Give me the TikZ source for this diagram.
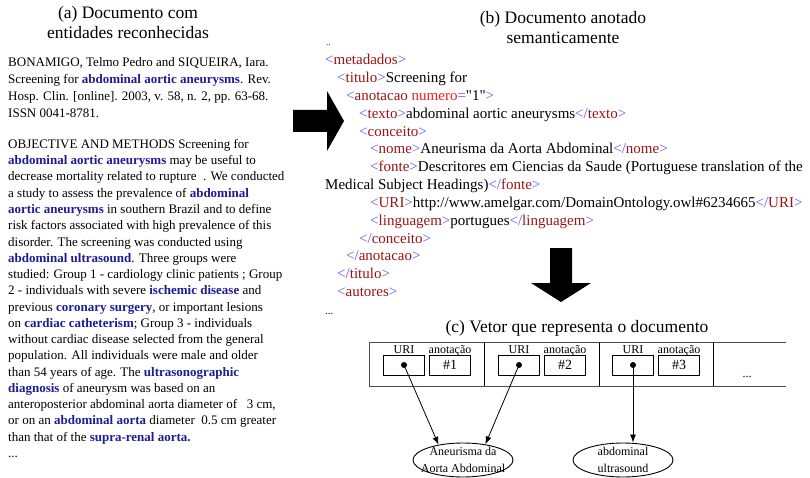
\documentclass[tikz,border=0pt]{standalone}
\usepackage{fontspec}
\setmainfont{Liberation Serif}[Ligatures=TeXOff]
\usetikzlibrary{arrows.meta,shapes.geometric}
\definecolor{entblue}{RGB}{28,28,150}
\definecolor{xmlblue}{RGB}{85,85,255}
\definecolor{xmlred}{RGB}{155,20,20}
\definecolor{xmlattr}{RGB}{255,25,25}
\newcommand\entity[1]{\textbf{\color{entblue}#1}}
\newcommand\xo[1]{{\color{xmlblue}<}{\color{xmlred}#1}{\color{xmlblue}>}}
\newcommand\xc[1]{{\color{xmlblue}</}{\color{xmlred}#1}{\color{xmlblue}>}}
\begin{document}
\begin{tikzpicture}[x=1pt,y=-1pt,
  title/.style={inner sep=0pt,anchor=base,font=\fontsize{17.5}{20}\selectfont},
  body/.style={inner sep=0pt,anchor=base west,font=\fontsize{13}{15}\selectfont},
  xml/.style={inner sep=0pt,anchor=base west,font=\fontsize{15}{17}\selectfont},
  label/.style={inner sep=0pt,anchor=base,font=\fontsize{12}{14}\selectfont},
  cellbox/.style={draw,line width=0.9pt,minimum width=41pt,minimum height=20pt,inner sep=0pt,font=\fontsize{14}{16}\selectfont},
  dot/.style={circle,fill,inner sep=0pt,minimum size=6pt},
  concept/.style={ellipse,draw,line width=0.9pt,minimum width=100pt,minimum height=34pt,inner sep=0pt},
  ctext/.style={inner sep=0pt,align=center,font=\fontsize{12}{17}\selectfont},
  conn/.style={line width=0.8pt,-{Latex[length=8pt,width=6pt]}},
  bigarrow/.style={fill=black}]
\useasboundingbox (0,0) rectangle (810,478);

% ---- (a) document with recognised entities
\node[title] (ta1) at (128,18.5) {(a) Documento com};
\node[title] (ta2) at (128,39) {entidades reconhecidas};

\node[body] (a1) at (8,66.5) {BONAMIGO, Telmo Pedro and SIQUEIRA, Iara.};
\node[body] (a2) at (8,83.5) {Screening for \entity{abdominal aortic aneurysms}. Rev.};
\node[body] (a3) at (8,100.5) {Hosp. Clin. [online]. 2003, v. 58, n. 2, pp. 63-68.};
\node[body] (a4) at (8,117.5) {ISSN 0041-8781.};

\node[body] (a5) at (8,148.5) {OBJECTIVE AND METHODS Screening for};
\node[body] (a6) at (8,164.8) {\entity{abdominal aortic aneurysms} may be useful to};
\node[body] (a7) at (8,181.0) {decrease mortality related to rupture\enspace. We conducted};
\node[body] (a8) at (8,197.3) {a study to assess the prevalence of \entity{abdominal}};
\node[body] (a9) at (8,213.5) {\entity{aortic aneurysms} in southern Brazil and to define};
\node[body] (a10) at (8,229.8) {risk factors associated with high prevalence of this};
\node[body] (a11) at (8,246.1) {disorder. The screening was conducted using};
\node[body] (a12) at (8,262.3) {\entity{abdominal ultrasound}. Three groups were};
\node[body] (a13) at (8,278.6) {studied: Group 1 - cardiology clinic patients ; Group};
\node[body] (a14) at (8,294.8) {2 - individuals with severe \entity{ischemic disease} and};
\node[body] (a15) at (8,311.1) {previous \entity{coronary surgery}, or important lesions};
\node[body] (a16) at (8,327.4) {on \entity{cardiac catheterism}; Group 3 - individuals};
\node[body] (a17) at (8,343.6) {without cardiac disease selected from the general};
\node[body] (a18) at (8,359.9) {population. All individuals were male and older};
\node[body] (a19) at (8,376.1) {than 54 years of age. The \entity{ultrasonographic}};
\node[body] (a20) at (8,392.4) {\entity{diagnosis} of aneurysm was based on an};
\node[body] (a21) at (8,408.7) {anteroposterior abdominal aorta diameter of\enspace\ 3 cm,};
\node[body] (a22) at (8,424.9) {or on an \entity{abdominal aorta} diameter\enspace0.5 cm greater};
\node[body] (a23) at (8,441.2) {than that of the \entity{supra-renal aorta.}};
\node[body] (a24) at (8,457.4) {...};

% ---- arrow (a) -> (b)
\fill[bigarrow] (293,110) -- (327,110) -- (327,91) -- (344,121) -- (327,151)
  -- (327,132) -- (293,132) -- cycle;

% ---- (b) semantically annotated document
\node[title] (tb1) at (563,23.5) {(b) Documento anotado};
\node[title] (tb2) at (563,43.5) {semanticamente};

\node[xml] (b0) at (326,46) {\fontsize{9}{10}\selectfont ..};
\node[xml] (b1) at (325,65) {\xo{metadados}};
\node[xml] (b2) at (337,82.8) {\xo{titulo}Screening for};
\node[xml] (b3) at (346,100.6) {{\color{xmlblue}<}{\color{xmlred}anotacao} {\color{xmlattr}numero}{\color{xmlblue}=}"1"{\color{xmlblue}>}};
\node[xml] (b4) at (359,118.4) {\xo{texto}abdominal aortic aneurysms\xc{texto}};
\node[xml] (b5) at (359,136.2) {\xo{conceito}};
\node[xml] (b6) at (370,154) {\xo{nome}Aneurisma da Aorta Abdominal\xc{nome}};
\node[xml] (b7) at (370,171.8) {\xo{fonte}Descritores em Ciencias da Saude (Portuguese translation of the};
\node[xml] (b8) at (325,189.6) {Medical Subject Headings)\xc{fonte}};
\node[xml] (b9) at (370,207.4) {\xo{URI}http://www.amelgar.com/DomainOntology.owl\#6234665\xc{URI}};
\node[xml] (b10) at (370,225.2) {\xo{linguagem}portugues\xc{linguagem}};
\node[xml] (b11) at (359,243) {\xc{conceito}};
\node[xml] (b12) at (346,260.8) {\xc{anotacao}};
\node[xml] (b13) at (337,278.6) {\xc{titulo}};
\node[xml] (b14) at (337,296.4) {\xo{autores}};
\node[xml] (b15) at (325,314) {\fontsize{11}{12}\selectfont ...};

% ---- arrow (b) -> (c)
\fill[bigarrow] (550,248) -- (572,248) -- (572,283) -- (591,283) -- (561,302)
  -- (531,283) -- (550,283) -- cycle;

% ---- (c) vector representing the document
\node[title] (tc) at (577,332.7) {(c) Vetor que representa o documento};

\draw[line width=0.9pt,black!70] (786,342) -- (369,342) -- (369,386) -- (786,386);
\foreach \xd in {484,599,713}
  \draw[line width=0.9pt] (\xd,342) -- (\xd,386);

\foreach \i/\xc in {1/369,2/484,3/598} {
  \node[label] (lu\i) at (\xc+35,353) {URI};
  \node[label] (ln\i) at (\xc+81,353) {anotação};
  \node[cellbox] (u\i) at (\xc+35,365) {};
  \node[cellbox] (n\i) at (\xc+81,365) {\#\i};
  \node[dot] (d\i) at (u\i.center) {};
}
\node[label] (more) at (747,377) {...};

% concepts the URIs point to
\node[concept] (e1) at (463,460) {};
\node[ctext] (e1t) at (e1.center) {Aneurisma da\\Aorta Abdominal};
\node[concept] (e2) at (623,460) {};
\node[ctext] (e2t) at (e2.center) {abdominal\\ultrasound};

\draw[conn] (d1.center) -- (e1.148);
\draw[conn] (d2.center) -- (e1.35);
\draw[conn] (d3.center) -- (d3.center |- e2.north);
\end{tikzpicture}
\end{document}
